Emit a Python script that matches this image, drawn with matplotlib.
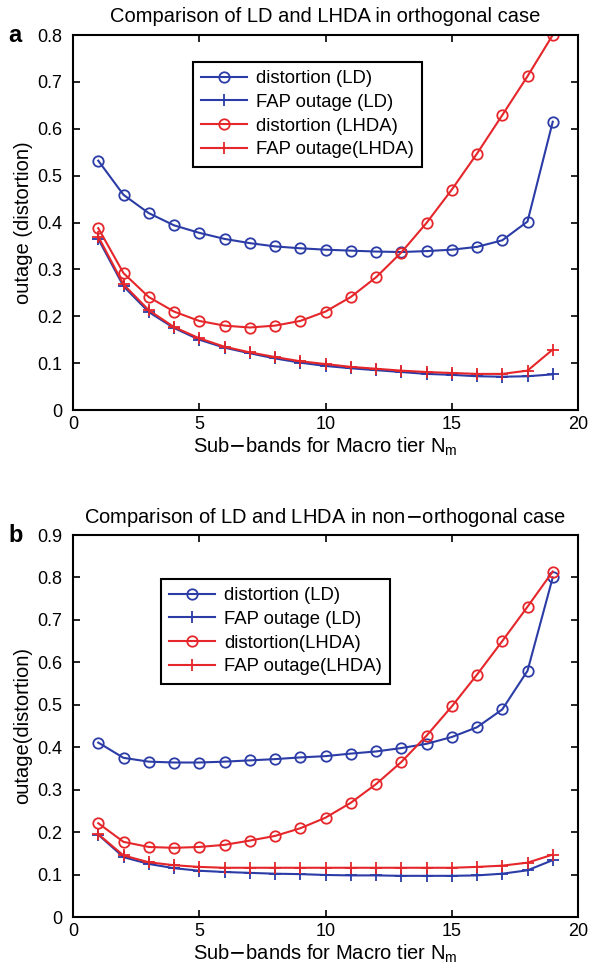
import numpy as np
import matplotlib.pyplot as plt

plt.rcParams['font.family'] = ['Liberation Sans', 'DejaVu Sans']

x = np.arange(1, 20)

# panel a: orthogonal case
dist_ld_a = [0.532, 0.459, 0.420, 0.394, 0.378, 0.365, 0.356, 0.349, 0.345, 0.342,
             0.340, 0.338, 0.337, 0.339, 0.342, 0.348, 0.362, 0.402, 0.615]
fap_ld_a = [0.365, 0.264, 0.209, 0.175, 0.150, 0.133, 0.121, 0.110, 0.101, 0.094,
            0.089, 0.085, 0.081, 0.077, 0.075, 0.072, 0.071, 0.072, 0.076]
dist_lhda_a = [0.388, 0.292, 0.241, 0.210, 0.190, 0.180, 0.176, 0.180, 0.190, 0.210,
               0.241, 0.283, 0.336, 0.399, 0.470, 0.547, 0.629, 0.712, 0.800]
fap_lhda_a = [0.370, 0.268, 0.213, 0.177, 0.153, 0.135, 0.123, 0.113, 0.104, 0.098,
              0.092, 0.088, 0.084, 0.081, 0.079, 0.077, 0.077, 0.084, 0.129]

# panel b: non-orthogonal case
dist_ld_b = [0.411, 0.375, 0.366, 0.364, 0.364, 0.366, 0.369, 0.372, 0.376, 0.379,
             0.385, 0.390, 0.398, 0.408, 0.424, 0.447, 0.489, 0.580, 0.800]
fap_ld_b = [0.194, 0.141, 0.125, 0.115, 0.109, 0.106, 0.104, 0.102, 0.101, 0.099,
            0.098, 0.098, 0.097, 0.097, 0.097, 0.098, 0.102, 0.110, 0.134]
dist_lhda_b = [0.221, 0.177, 0.165, 0.163, 0.165, 0.170, 0.180, 0.191, 0.209, 0.234,
               0.269, 0.313, 0.365, 0.427, 0.496, 0.571, 0.650, 0.731, 0.814]
fap_lhda_b = [0.195, 0.145, 0.129, 0.122, 0.118, 0.116, 0.116, 0.116, 0.116, 0.116,
              0.116, 0.116, 0.116, 0.116, 0.116, 0.118, 0.121, 0.128, 0.147]

blue = '#2b3ca6'
red = '#e5262a'
W, H = 592, 973
fs_lab = 14.5   # titles / axis labels
fs_tick = 13

fig = plt.figure(figsize=(W / 100, H / 100), dpi=100)

def axes_px(l, t, r, b):
    return fig.add_axes([l / W, 1 - b / H, (r - l) / W, (b - t) / H])

def panel(ax, d_ld, f_ld, d_lh, f_lh, labels, title, ylabel, ymax, leg_xy):
    ax.plot(x, d_ld, '-o', color=blue, lw=1.5, ms=7.5, mfc='none', mew=1.3, label=labels[0])
    ax.plot(x, f_ld, '-+', color=blue, lw=1.5, ms=8, mew=1.3, label=labels[1])
    ax.plot(x, d_lh, '-o', color=red, lw=1.5, ms=7.5, mfc='none', mew=1.3, label=labels[2])
    ax.plot(x, f_lh, '-+', color=red, lw=1.5, ms=8, mew=1.3, label=labels[3])
    ax.set_xlim(0, 20)
    ax.set_ylim(0, ymax)
    ax.set_xticks([0, 5, 10, 15, 20])
    yt = np.round(np.arange(0, ymax + 0.01, 0.1), 1)
    ax.set_yticks(yt)
    ax.set_yticklabels(['0'] + ['%.1f' % v for v in yt[1:]])
    ax.tick_params(direction='in', top=True, right=True, length=5, width=1.2,
                   labelsize=fs_tick)
    ax.tick_params(axis='y', pad=8)
    ax.tick_params(axis='x', pad=4)
    for s in ax.spines.values():
        s.set_linewidth(1.5)
    ax.set_title(title, fontsize=fs_lab, pad=9)
    ax.set_ylabel(ylabel, fontsize=fs_lab, labelpad=3)
    ax.set_xlabel(r'Sub$-$bands for Macro tier N$_\mathregular{m}$', fontsize=fs_lab, labelpad=2)
    leg = ax.legend(loc='upper left', bbox_to_anchor=leg_xy, bbox_transform=fig.transFigure,
                    fontsize=13.3, fancybox=False, edgecolor='black', framealpha=1,
                    handlelength=2.5, borderpad=0.45, labelspacing=0.36, handletextpad=0.45,
                    borderaxespad=0)
    leg.get_frame().set_linewidth(1.5)

ax1 = axes_px(73, 35, 578, 410)
panel(ax1, dist_ld_a, fap_ld_a, dist_lhda_a, fap_lhda_a,
      ['distortion (LD)', 'FAP outage (LD)', 'distortion (LHDA)', 'FAP outage(LHDA)'],
      'Comparison of LD and LHDA in orthogonal case', 'outage (distortion)', 0.8,
      (193 / W, 1 - 62 / H))

ax2 = axes_px(73, 535, 578, 917)
panel(ax2, dist_ld_b, fap_ld_b, dist_lhda_b, fap_lhda_b,
      ['distortion (LD)', 'FAP outage (LD)', 'distortion(LHDA)', 'FAP outage(LHDA)'],
      r'Comparison of LD and LHDA in non$-$orthogonal case', 'outage(distortion)', 0.9,
      (161 / W, 1 - 579 / H))

fig.text(8 / W, 1 - 36 / H, 'a', fontsize=17, fontweight='bold', va='center')
fig.text(8 / W, 1 - 536 / H, 'b', fontsize=17, fontweight='bold', va='center')

fig.savefig('out.png', dpi=100)
